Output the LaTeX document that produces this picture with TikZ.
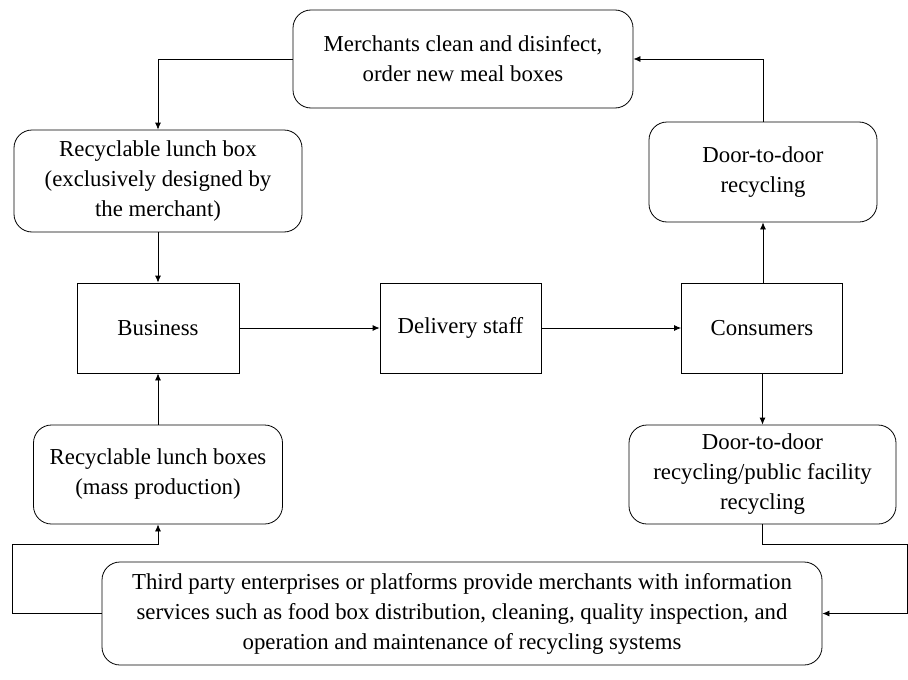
\documentclass[tikz,border=0pt]{standalone}
\usepackage{fontspec}
\setmainfont{Liberation Serif}
\usetikzlibrary{shapes,arrows.meta,positioning}

\tikzset{
  block/.style={draw, line width=0.8pt, align=center, font=\fontsize{22.8}{30}\selectfont, inner sep=0pt},
  roundblock/.style={block, rounded corners=18pt},
  flow/.style={draw, line width=0.8pt, -{Latex[length=7pt,width=6pt]}}
}

\begin{document}
\begin{tikzpicture}[x=1pt,y=-1pt]
  \useasboundingbox (0,0) rectangle (908,680);

  \node[roundblock, minimum width=340pt, minimum height=98pt] (clean) at (463,59)
    {Merchants clean and disinfect,\\order new meal boxes};
  \node[roundblock, minimum width=288pt, minimum height=102pt] (design) at (158,181)
    {Recyclable lunch box\\(exclusively designed by\\the merchant)};
  \node[roundblock, minimum width=228pt, minimum height=100pt] (door) at (763,172)
    {Door-to-door\\recycling};

  \node[block, minimum width=162pt, minimum height=90pt] (business) at (158,328) {Business};
  \node[block, minimum width=161pt, minimum height=90pt] (delivery) at (460.5,328) {Delivery staff};
  \node[block, minimum width=161pt, minimum height=90pt] (consumers) at (762,328) {Consumers};

  \node[roundblock, minimum width=249pt, minimum height=99pt] (mass) at (158,474.5)
    {Recyclable lunch boxes\\(mass production)};
  \node[roundblock, minimum width=267pt, minimum height=99pt] (public) at (762.5,474.5)
    {Door-to-door\\recycling/public facility\\recycling};

  \node[roundblock, minimum width=720pt, minimum height=103pt] (third) at (462,613.5)
    {Third party enterprises or platforms provide merchants with information\\
     services such as food box distribution, cleaning, quality inspection, and\\
     operation and maintenance of recycling systems};

  % loop at the top
  \draw[flow] (clean.west) -| (design.north);
  \draw[flow] (door.north) |- (clean.east);

  % main line
  \draw[flow] (design) -- (business);
  \draw[flow] (mass) -- (business);
  \draw[flow] (business) -- (delivery);
  \draw[flow] (delivery) -- (consumers);
  \draw[flow] (consumers.north -| door) -- (door);
  \draw[flow] (consumers.south -| public) -- (public);

  % service loop at the bottom
  \coordinate (lb) at (12,544);
  \coordinate (rb) at (907,544);
  \draw[flow] (third.west) -| (lb) -| (mass.south);
  \draw[flow] (public.south) |- (rb) |- (third.east);
\end{tikzpicture}
\end{document}
